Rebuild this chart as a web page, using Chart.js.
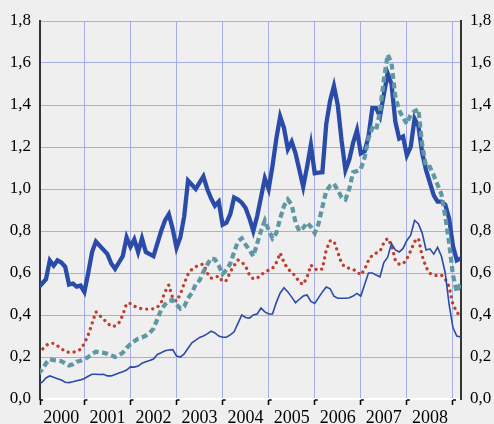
<!DOCTYPE html>
<html>
<head>
<meta charset="utf-8">
<script src="https://cdn.jsdelivr.net/npm/chart.js@4/dist/chart.umd.min.js"></script>
<style>
html,body{margin:0;padding:0;background:#efefef;}
canvas{display:block;}
</style>
</head>
<body>
<canvas id="c" width="494" height="424"></canvas>
<script>
// Years shown on the x axis (monthly data from Jan 2000 to Mar 2009)
const years = ['2000','2001','2002','2003','2004','2005','2006','2007','2008'];
const yTicks = [0,0.2,0.4,0.6,0.8,1.0,1.2,1.4,1.6,1.8];

// Series 1: thick solid blue
const seriesThick = [
  0.53,0.55,0.57,0.66,0.635,0.66,0.65,0.63,0.545,0.55,0.535,0.54,
  0.51,0.60,0.70,0.75,0.73,0.71,0.69,0.645,0.62,0.65,0.68,0.77,
  0.725,0.76,0.70,0.765,0.70,0.69,0.68,0.74,0.80,0.85,0.88,0.81,
  0.72,0.77,0.87,1.04,1.02,1.00,1.03,1.06,1.00,0.955,0.92,0.94,
  0.83,0.84,0.88,0.96,0.95,0.935,0.91,0.86,0.80,0.87,0.96,1.05,
  1.00,1.11,1.24,1.345,1.29,1.19,1.225,1.17,1.09,1.01,1.105,1.21,
  1.075,1.078,1.08,1.31,1.42,1.49,1.40,1.23,1.09,1.14,1.22,1.28,
  1.17,1.18,1.25,1.385,1.385,1.345,1.45,1.55,1.50,1.32,1.24,1.25,
  1.16,1.20,1.335,1.30,1.17,1.09,1.03,0.97,0.94,0.94,0.925,0.86,
  0.73,0.66,0.67
];
// Series 2: thick dashed teal
const seriesDashed = [
  0.12,0.14,0.17,0.19,0.185,0.183,0.18,0.17,0.16,0.165,0.178,0.182,
  0.19,0.20,0.215,0.225,0.222,0.22,0.215,0.208,0.20,0.208,0.22,0.243,
  0.262,0.275,0.287,0.293,0.302,0.315,0.335,0.38,0.425,0.45,0.468,0.47,
  0.45,0.43,0.44,0.48,0.505,0.545,0.565,0.605,0.64,0.67,0.665,0.635,
  0.595,0.615,0.645,0.70,0.75,0.765,0.735,0.71,0.68,0.74,0.80,0.85,
  0.805,0.765,0.79,0.86,0.92,0.95,0.925,0.84,0.80,0.815,0.84,0.82,
  0.79,0.835,0.915,0.99,1.015,1.025,0.995,0.96,0.95,1.00,1.08,1.085,
  1.095,1.15,1.24,1.29,1.28,1.37,1.52,1.64,1.60,1.44,1.375,1.34,
  1.31,1.355,1.37,1.38,1.21,1.105,1.105,1.065,1.02,0.975,0.87,0.745,
  0.59,0.51,0.55
];
// Series 3: red dotted
const seriesDotted = [
  0.22,0.235,0.255,0.265,0.265,0.253,0.24,0.226,0.222,0.222,0.228,0.236,
  0.265,0.305,0.36,0.415,0.397,0.38,0.362,0.345,0.348,0.362,0.40,0.455,
  0.455,0.442,0.433,0.43,0.428,0.428,0.43,0.436,0.46,0.51,0.543,0.48,
  0.465,0.50,0.55,0.595,0.617,0.63,0.637,0.643,0.60,0.575,0.58,0.585,
  0.559,0.565,0.605,0.635,0.662,0.652,0.633,0.59,0.572,0.575,0.592,0.603,
  0.614,0.622,0.65,0.695,0.65,0.62,0.603,0.585,0.556,0.545,0.58,0.638,
  0.62,0.612,0.62,0.71,0.753,0.752,0.70,0.645,0.627,0.622,0.617,0.608,
  0.59,0.618,0.66,0.685,0.695,0.703,0.745,0.765,0.733,0.66,0.642,0.643,
  0.668,0.705,0.75,0.765,0.68,0.628,0.598,0.59,0.587,0.59,0.572,0.535,
  0.45,0.415,0.39
];
// Series 4: thin solid blue
const seriesThin = [
  0.068,0.08,0.10,0.11,0.103,0.097,0.09,0.08,0.078,0.082,0.087,0.091,
  0.098,0.108,0.118,0.118,0.117,0.118,0.11,0.11,0.117,0.124,0.13,0.138,
  0.153,0.152,0.157,0.17,0.177,0.183,0.19,0.212,0.22,0.23,0.233,0.235,
  0.205,0.20,0.215,0.242,0.268,0.28,0.293,0.30,0.31,0.323,0.315,0.30,
  0.294,0.294,0.305,0.32,0.36,0.40,0.388,0.385,0.40,0.405,0.433,0.415,
  0.405,0.405,0.46,0.505,0.53,0.51,0.485,0.458,0.475,0.49,0.495,0.465,
  0.455,0.483,0.51,0.533,0.525,0.49,0.48,0.48,0.48,0.482,0.49,0.503,
  0.49,0.545,0.60,0.60,0.59,0.582,0.65,0.675,0.74,0.71,0.70,0.717,
  0.755,0.78,0.85,0.835,0.79,0.71,0.715,0.69,0.722,0.68,0.60,0.45,
  0.34,0.30,0.295
];

const gridColor = '#a7aee5';
const axisColor = '#333333';
const fontFamily = "'Liberation Serif', 'Times New Roman', serif";
const toPoints = arr => arr.map((v, i) => ({x: i, y: v}));
const fmt = v => Number(v).toFixed(1).replace('.', ',');

const bgPlugin = {
  id: 'bg',
  beforeDraw(chart) {
    const ctx = chart.ctx;
    ctx.save();
    ctx.fillStyle = '#efefef';
    ctx.fillRect(0, 0, chart.width, chart.height);
    ctx.restore();
  }
};

// small horizontal caps on the year-boundary tick marks
const capPlugin = {
  id: 'caps',
  afterDraw(chart) {
    const xs = chart.scales.x;
    const ctx = chart.ctx;
    const y = xs.top + 1;
    ctx.save();
    ctx.strokeStyle = '#000';
    ctx.lineWidth = 1.5;
    xs.ticks.forEach(t => {
      if (t.value % 12 === 0 || t.value < 1) {
        const px = xs.getPixelForValue(t.value);
        ctx.beginPath();
        ctx.moveTo(px, y);
        ctx.lineTo(px + 3, y);
        ctx.stroke();
      }
    });
    ctx.restore();
  }
};

const yCommon = {
  type: 'linear', min: 0, max: 1.8,
  afterBuildTicks: s => { s.ticks = yTicks.map(v => ({value: v})); },
  ticks: { callback: v => fmt(v), color: '#000', padding: 9, font: {family: fontFamily, size: 17} },
  border: { display: true, color: axisColor, width: 2 }
};

new Chart(document.getElementById('c'), {
  type: 'line',
  data: {
    datasets: [
      { label: 'dashed', data: toPoints(seriesDashed), borderColor: '#5f98a3', borderWidth: 4.2, borderDash: [6, 3.5], pointRadius: 0, tension: 0, order: 0 },
      { label: 'thick', data: toPoints(seriesThick), borderColor: '#2b4ba9', borderWidth: 4.3, pointRadius: 0, tension: 0, order: 1 },
      { label: 'thin', data: toPoints(seriesThin), borderColor: '#2b4ba9', borderWidth: 1.6, pointRadius: 0, tension: 0, order: 2 },
      { label: 'dotted', data: toPoints(seriesDotted), borderColor: '#bf3e2e', borderWidth: 3.3, borderDash: [0.01, 6], borderCapStyle: 'round', pointRadius: 0, tension: 0, order: 3 }
    ]
  },
  options: {
    responsive: false,
    devicePixelRatio: 1,
    animation: false,
    layout: { padding: { top: 21, left: 0, right: 0, bottom: 0 } },
    plugins: { legend: { display: false }, tooltip: { enabled: false } },
    scales: {
      x: {
        type: 'linear', min: 0.44, max: 110.1, position: 'bottom',
        afterBuildTicks: s => {
          const t = [{value: 0.44}];
          years.forEach((y, k) => { t.push({value: 12 * k + 6}); t.push({value: 12 * k + 12}); });
          s.ticks = t;
        },
        afterFit: s => { s.height = 25; },
        ticks: {
          autoSkip: false, maxRotation: 0, padding: 2, color: '#000',
          font: {family: fontFamily, size: 18},
          callback: v => (Math.round(v) % 12 === 6 ? years[(Math.round(v) - 6) / 12] : '')
        },
        grid: {
          color: c => (c.tick && c.tick.value % 12 === 0) ? gridColor : 'rgba(0,0,0,0)',
          tickColor: c => (c.tick && (c.tick.value % 12 === 0 || c.tick.value < 1)) ? '#000' : 'rgba(0,0,0,0)',
          tickLength: 6, lineWidth: 1, tickWidth: 1.5
        },
        border: { display: true, color: '#ffffff', width: 2 }
      },
      y: Object.assign({}, yCommon, {
        position: 'left',
        afterFit: s => { s.width = 40; },
        grid: { drawTicks: false, color: c => (c.tick && c.tick.value > 1e-6) ? gridColor : 'rgba(0,0,0,0)', lineWidth: 1 }
      }),
      y2: Object.assign({}, yCommon, {
        position: 'right',
        afterFit: s => { s.width = 33; },
        grid: { display: false, drawTicks: false }
      })
    }
  },
  plugins: [bgPlugin, capPlugin]
});
</script>
</body>
</html>
